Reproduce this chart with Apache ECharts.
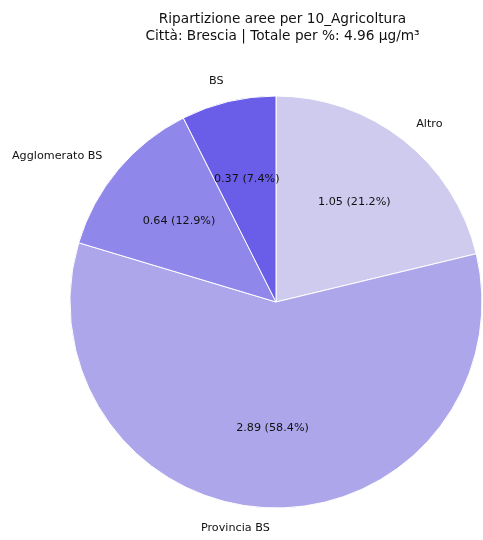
<!DOCTYPE html>
<html>
<head>
<meta charset="utf-8">
<script src="https://cdn.jsdelivr.net/npm/echarts@6/dist/echarts.min.js"></script>
<style>
  html, body { margin: 0; padding: 0; background: #fff; }
  #chart { width: 483px; height: 540px; }
</style>
</head>
<body>
<div id="chart"></div>
<script>
// Emission shares by area, sector 10_Agricoltura (µg/m³)
const categories = ['Altro', 'Provincia BS', 'Agglomerato BS', 'BS'];
const values = [1.0525, 2.8945, 0.641, 0.368];
const colors = ['#cfcbee', '#aea6ea', '#9087ea', '#6a5de8'];
const city = 'Brescia';
const sector = '10_Agricoltura';

const total = values.reduce((a, b) => a + b, 0);
const pieData = categories.map((name, i) => ({
  name: name,
  value: values[i],
  itemStyle: { color: colors[i] }
}));

const FONT = 'DejaVu Sans';
const cx = 276, cy = 302, R = 206;

const chart = echarts.init(document.getElementById('chart'), null, { renderer: 'canvas' });
chart.setOption({
  backgroundColor: '#ffffff',
  animation: false,
  title: {
    text: 'Ripartizione aree per ' + sector + '\nCittà: ' + city + ' | Totale per %: ' + total.toFixed(2) + ' µg/m³',
    left: 277.5,
    top: 6,
    textAlign: 'center',
    textStyle: {
      fontFamily: FONT,
      fontSize: 13.7,
      fontWeight: 'normal',
      color: '#111',
      lineHeight: 17
    }
  },
  series: [
    {
      // slices with category names outside
      type: 'pie',
      center: [cx, cy],
      radius: [0, R],
      startAngle: 90,
      clockwise: true,
      avoidLabelOverlap: false,
      silent: true,
      itemStyle: { borderColor: '#ffffff', borderWidth: 1 },
      label: {
        show: true,
        position: 'outside',
        distanceToLabelLine: 0,
        fontFamily: FONT,
        fontSize: 11.2,
        color: '#111',
        formatter: p => p.name
      },
      labelLine: { show: false, length: R * 0.1, length2: 0 },
      emphasis: { disabled: true },
      data: pieData
    },
    {
      // transparent ring used only to place value labels at 0.6 R
      type: 'pie',
      center: [cx, cy],
      radius: [0, R * 1.2],
      startAngle: 90,
      clockwise: true,
      silent: true,
      z: 5,
      itemStyle: { color: 'rgba(0,0,0,0)', borderWidth: 0 },
      label: {
        show: true,
        position: 'inside',
        fontFamily: FONT,
        fontSize: 11.2,
        color: '#111',
        formatter: p => p.value.toFixed(2) + ' (' + (p.value / total * 100).toFixed(1) + '%)'
      },
      labelLine: { show: false },
      emphasis: { disabled: true },
      data: categories.map((name, i) => ({ name: name, value: values[i] }))
    }
  ]
});
</script>
</body>
</html>
